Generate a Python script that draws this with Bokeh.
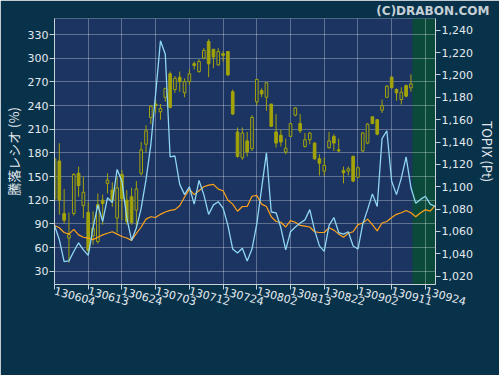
from bokeh.plotting import figure
from bokeh.models import (Range1d, LinearAxis, FixedTicker, NumeralTickFormatter,
                          BoxAnnotation, Legend, LegendItem, Title)
from bokeh.embed import file_html
from bokeh.resources import INLINE

# ---------------- data ----------------
x_tick_pos = [0, 7, 14, 21, 28, 35, 42, 49, 56, 63, 70, 77]
x_tick_labels = ["130604", "130613", "130624", "130703", "130712", "130724",
                 "130802", "130813", "130822", "130902", "130911", "130924"]

ratio6 = [88, 70, 42, 43, 55, 66, 57, 50, 85, 114,
          93, 123, 117, 159, 144, 98, 69, 85, 110, 146,
          190, 255, 322, 305, 175, 176, 140, 127, 137, 115,
          145, 127, 102, 114, 118, 110, 88, 58, 53, 59,
          43, 58, 90, 135, 180, 105, 104, 85, 57, 80,
          86, 91, 95, 108, 82, 62, 55, 88, 98, 79,
          77, 80, 62, 58, 90, 108, 128, 112, 198, 208,
          144, 127, 148, 175, 136, 116, 121, 125, 115, 112]

ratio25 = [88, 85, 79, 77, 83, 76, 73, 72, 70, 73,
           76, 78, 80, 77, 74, 72, 69, 78, 86, 96,
           99, 98, 102, 105, 107, 108, 113, 124, 134, 127,
           132, 137, 139, 140, 134, 132, 120, 115, 106, 112,
           112, 125, 126, 115, 112, 99, 93, 92, 86, 94,
           92, 88, 87, 86, 80, 79, 79, 85, 82, 77,
           73, 78, 80, 89, 91, 96, 89, 81, 91, 93,
           98, 102, 104, 107, 104, 99, 104, 108, 106, 113]

topix_open = [1089, 1123, 1076, 1054, 1076, 1112, 1083, 1077, 1056, 1051,
              1088, 1103, 1097, 1072, 1111, 1088, 1091, 1079, 1112, 1138,
              1162, 1174, 1167, 1180, 1201, 1187, 1198, 1184, 1194, 1210,
              1203, 1215, 1230, 1223, 1209, 1219, 1221, 1185, 1149, 1126,
              1141, 1134, 1176, 1186, 1180, 1174, 1149, 1146, 1131, 1145,
              1164, 1156.5, 1136, 1142, 1139, 1125, 1114, 1135, 1145, 1133,
              1114.5, 1114, 1127, 1108.5, 1132, 1139, 1162.5, 1160, 1168.5, 1180,
              1198, 1187, 1178, 1190.5, 1188.5]
topix_high = [1127, 1139, 1098, 1077, 1112, 1118, 1109, 1086, 1078, 1094,
              1093, 1112, 1104, 1109, 1115, 1097, 1099, 1105, 1140, 1155,
              1173, 1178, 1174, 1188, 1203, 1199, 1203, 1197, 1205, 1212,
              1214, 1224, 1232, 1223, 1224, 1221, 1221, 1187, 1153, 1153,
              1149, 1164, 1196, 1188, 1193, 1174, 1165, 1151, 1143, 1157,
              1171, 1165, 1148, 1149, 1140, 1129, 1126, 1149, 1147, 1143,
              1118, 1118, 1128, 1118, 1149, 1157, 1163, 1160, 1178, 1191,
              1199, 1188, 1189, 1191.5, 1200.5]
topix_low = [1075, 1075, 1067, 1032, 1074, 1091, 1072, 1039, 1048, 1049,
             1066, 1094, 1082, 1059, 1070, 1066, 1066, 1063, 1110, 1131,
             1156, 1166, 1160, 1176, 1170, 1184, 1185, 1180, 1191, 1205,
             1202, 1214, 1198, 1206, 1208, 1212, 1199, 1164, 1126, 1124,
             1127, 1132, 1173, 1180, 1168, 1154, 1135, 1136, 1129, 1145,
             1163, 1148, 1135, 1138, 1124, 1110, 1110, 1134, 1132, 1131,
             1103, 1110, 1104, 1108, 1131, 1138, 1156, 1146, 1166, 1179.5,
             1188, 1177, 1173.5, 1180, 1185]
topix_close = [1125, 1088, 1070, 1057, 1111, 1101, 1095, 1043, 1063, 1084,
               1085, 1106, 1088, 1099, 1089, 1069, 1068, 1098, 1133, 1150,
               1172, 1172.5, 1170, 1188, 1171, 1197, 1194, 1194, 1201, 1208.5,
               1212, 1222, 1210, 1216, 1221, 1217.5, 1200, 1165, 1127, 1148,
               1131, 1162, 1196, 1183, 1193, 1154, 1139, 1140, 1134.5, 1156.5,
               1170.5, 1150, 1142, 1148, 1125, 1121, 1119, 1141, 1139, 1132,
               1112.5, 1116, 1105, 1117, 1148, 1156, 1156.5, 1147, 1172.5, 1190,
               1188.5, 1184, 1184.5, 1181, 1192]

legend_labels = ["騰落レシオ (6日)", "騰落レシオ (25日)", "TOPIX (日足)"]
status_text = "[2013-09-18]  値上: 1083 / 値下: 557 / レシオ6: 142.65% / レシオ25: 103.89%"
copyright_text = "(C)DRABON.COM"

# ---------------- styles ----------------
BG = "#08324a"
PLOT_BG = "#1b3461"
FUTURE_BG = "#0b4a3b"
CANDLE = "#a3a30a"
CYAN = "#8fd6f2"
ORANGE = "#ffa31a"
TXT = "#e4e9ee"
AXIS = "#c9d1d9"

n_line = len(ratio6)
xs_line = list(range(n_line))
n_c = len(topix_open)
xs_c = list(range(n_c))

up_x, up_top, up_bot = [], [], []
dn_x, dn_top, dn_bot = [], [], []
for i in xs_c:
    o, c = topix_open[i], topix_close[i]
    if c >= o:
        up_x.append(i); up_top.append(c); up_bot.append(o)
    else:
        dn_x.append(i); dn_top.append(o); dn_bot.append(c)

p = figure(frame_width=381, frame_height=266,
           x_range=Range1d(0, 79.1), y_range=Range1d(13.1, 350.3),
           output_backend="svg", toolbar_location=None,
           min_border_left=4, min_border_right=2, min_border_top=2, min_border_bottom=0,
           title=copyright_text)
p.extra_y_ranges = {"topix": Range1d(1012.5, 1250.5)}
p.background_fill_color = PLOT_BG
p.border_fill_color = BG
p.outline_line_color = None

p.title.align = "right"
p.title.text_font = "DejaVu Sans"
p.title.text_font_size = "12px"
p.title.text_font_style = "bold"
p.title.text_color = "#c5cfd6"
p.title.standoff = 2
p.title.offset = -54

# future region
p.add_layout(BoxAnnotation(left=74.3, fill_color=FUTURE_BG, fill_alpha=1.0,
                           line_color=None, level="image"))

# grids
for g in (p.xgrid, p.ygrid):
    g.grid_line_color = "#ffffff"
    g.grid_line_alpha = 0.3
    g.grid_line_width = 1

# left axis
p.yaxis.ticker = FixedTicker(ticks=[30, 60, 90, 120, 150, 180, 210, 240, 270, 300, 330])
p.yaxis.axis_label = "騰落レシオ (%)"

# right axis
rax = LinearAxis(y_range_name="topix",
                 ticker=FixedTicker(ticks=list(range(1020, 1241, 20))),
                 formatter=NumeralTickFormatter(format="0,0"),
                 axis_label="TOPIX (Pt)")
p.add_layout(rax, "right")

# x axis
p.xaxis.ticker = FixedTicker(ticks=x_tick_pos)
p.xaxis.major_label_overrides = {pos: lab for pos, lab in zip(x_tick_pos, x_tick_labels)}
p.xaxis.major_label_orientation = -0.27

for ax in p.axis:
    ax.axis_line_color = AXIS
    ax.major_tick_line_color = AXIS
    ax.minor_tick_line_color = None
    ax.major_tick_in = 0
    ax.major_tick_out = 5
    ax.major_label_text_color = TXT
    ax.major_label_text_font = "DejaVu Sans"
    ax.major_label_text_font_size = "11px"
    ax.major_label_standoff = 1
    ax.axis_label_text_color = TXT
    ax.axis_label_text_font = "Noto Sans CJK JP"
    ax.axis_label_text_font_size = "13px"
    ax.axis_label_text_font_style = "normal"
    ax.axis_label_standoff = 2

# candles
p.segment(x0=xs_c, x1=xs_c, y0=topix_low, y1=topix_high, y_range_name="topix",
          line_color=CANDLE, line_width=1)
r_up = p.vbar(x=up_x, top=up_top, bottom=up_bot, width=0.55, y_range_name="topix",
              fill_color=PLOT_BG, line_color=CANDLE, line_width=1)
p.vbar(x=dn_x, top=dn_top, bottom=dn_bot, width=0.55, y_range_name="topix",
       fill_color=CANDLE, line_color=CANDLE, line_width=1)

# ratio lines
r25 = p.line(xs_line, ratio25, line_color=ORANGE, line_width=1.2)
r6 = p.line(xs_line, ratio6, line_color=CYAN, line_width=1.3)

legend = Legend(items=[LegendItem(label=legend_labels[0], renderers=[r6]),
                       LegendItem(label=legend_labels[1], renderers=[r25]),
                       LegendItem(label=legend_labels[2], renderers=[r_up])],
                orientation="horizontal", location="center",
                background_fill_alpha=0, border_line_alpha=0,
                label_text_color=TXT, label_text_font="Noto Sans CJK JP",
                label_text_font_size="11px", glyph_width=18, glyph_height=12,
                label_height=12, label_standoff=10,
                spacing=12, padding=0, margin=9)
p.add_layout(legend, "below")

status = Title(text=status_text, align="left", text_font="DejaVu Sans",
               text_font_size="12.5px", text_font_style="normal", text_color=TXT,
               standoff=0, offset=-49)
p.add_layout(status, "below")

open("out.html", "w").write(file_html(p, INLINE))
